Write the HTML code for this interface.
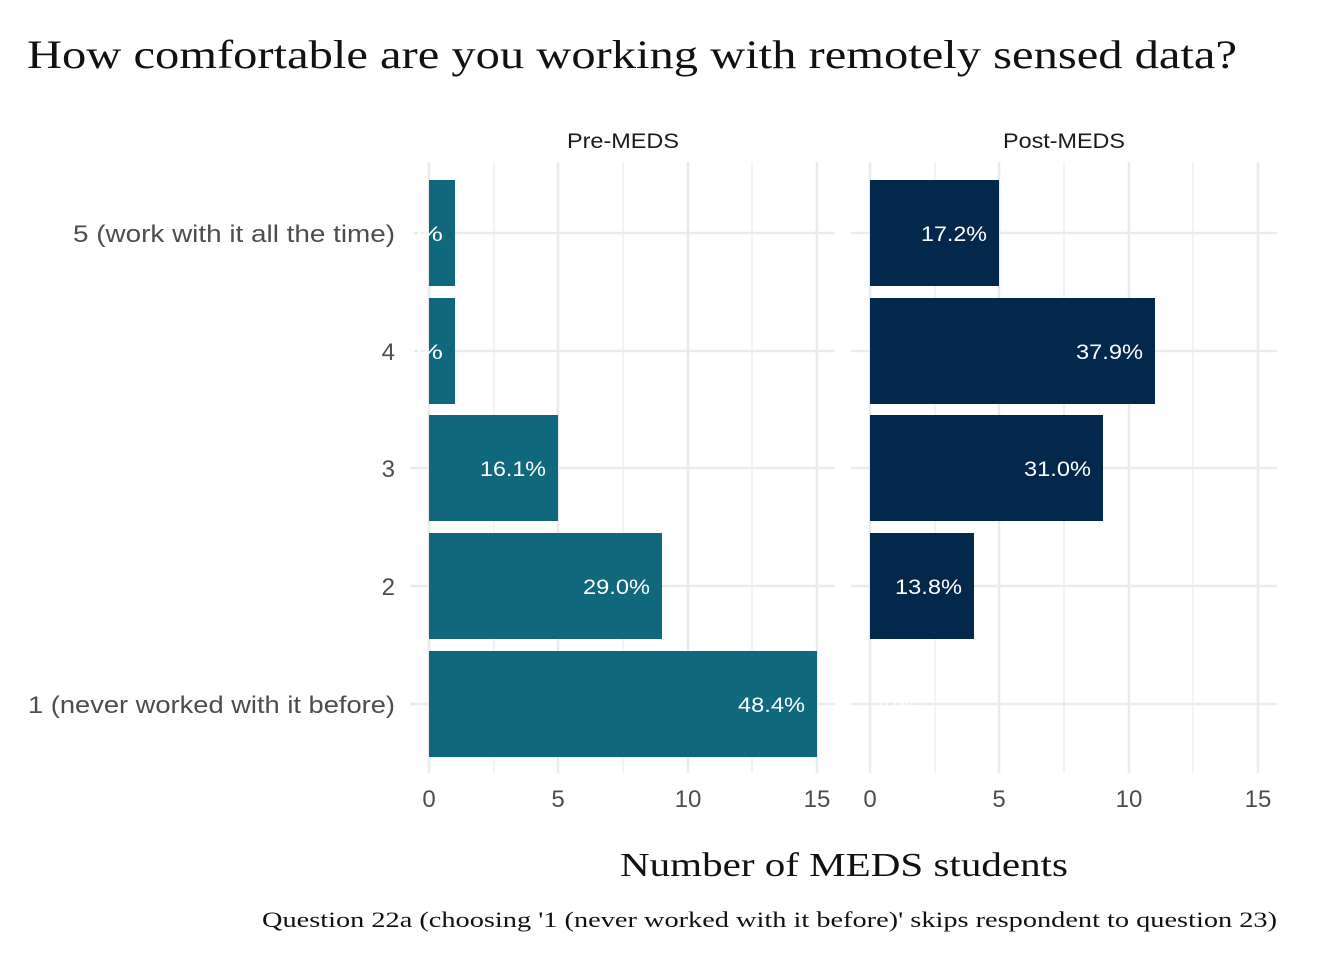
<!DOCTYPE html>
<html><head><style>body{margin:0;background:#fff}</style></head><body>
<svg width="1344" height="960" xmlns="http://www.w3.org/2000/svg" font-family="Liberation Sans, sans-serif">
<rect width="1344" height="960" fill="#fff"/>
<text x="27" y="68" font-family="Liberation Serif, serif" font-size="40" fill="#111" textLength="1210" lengthAdjust="spacingAndGlyphs">How comfortable are you working with remotely sensed data?</text>
<text x="567" y="148" font-size="21" fill="#1a1a1a" textLength="112" lengthAdjust="spacingAndGlyphs">Pre-MEDS</text>
<text x="1003" y="148" font-size="21" fill="#1a1a1a" textLength="122" lengthAdjust="spacingAndGlyphs">Post-MEDS</text>
<g stroke="#ebebeb" stroke-width="1.2">
<line x1="494" y1="162" x2="494" y2="773"/><line x1="623" y1="162" x2="623" y2="773"/><line x1="752" y1="162" x2="752" y2="773"/>
<line x1="935" y1="162" x2="935" y2="773"/><line x1="1064" y1="162" x2="1064" y2="773"/><line x1="1193" y1="162" x2="1193" y2="773"/>
</g>
<g stroke="#ebebeb" stroke-width="2.6">
<line x1="429" y1="162" x2="429" y2="773"/><line x1="558" y1="162" x2="558" y2="773"/><line x1="688" y1="162" x2="688" y2="773"/><line x1="817" y1="162" x2="817" y2="773"/>
<line x1="870" y1="162" x2="870" y2="773"/><line x1="999" y1="162" x2="999" y2="773"/><line x1="1129" y1="162" x2="1129" y2="773"/><line x1="1258" y1="162" x2="1258" y2="773"/>
<line x1="410" y1="233" x2="835" y2="233"/><line x1="410" y1="351" x2="835" y2="351"/><line x1="410" y1="468" x2="835" y2="468"/><line x1="410" y1="586" x2="835" y2="586"/><line x1="410" y1="704" x2="835" y2="704"/>
<line x1="851" y1="233" x2="1277" y2="233"/><line x1="851" y1="351" x2="1277" y2="351"/><line x1="851" y1="468" x2="1277" y2="468"/><line x1="851" y1="586" x2="1277" y2="586"/><line x1="851" y1="704" x2="1277" y2="704"/>
</g>
<g fill="#0f687b">
<rect x="429" y="180" width="26" height="106"/><rect x="429" y="298" width="26" height="106"/>
<rect x="429" y="415" width="129" height="106"/><rect x="429" y="533" width="233" height="106"/><rect x="429" y="651" width="388" height="106"/>
</g>
<g fill="#03284c">
<rect x="870" y="180" width="129" height="106"/><rect x="870" y="298" width="285" height="106"/>
<rect x="870" y="415" width="233" height="106"/><rect x="870" y="533" width="104" height="106"/>
</g>
<g fill="#fff" font-size="21">
<text x="376" y="241" textLength="67" lengthAdjust="spacingAndGlyphs">3.2%</text><text x="376" y="359" textLength="67" lengthAdjust="spacingAndGlyphs">3.2%</text>
<text x="480" y="476" textLength="66" lengthAdjust="spacingAndGlyphs">16.1%</text><text x="583" y="594" textLength="67" lengthAdjust="spacingAndGlyphs">29.0%</text><text x="738" y="712" textLength="67" lengthAdjust="spacingAndGlyphs">48.4%</text>
<text x="921" y="241" textLength="66" lengthAdjust="spacingAndGlyphs">17.2%</text><text x="1076" y="359" textLength="67" lengthAdjust="spacingAndGlyphs">37.9%</text><text x="1024" y="476" textLength="67" lengthAdjust="spacingAndGlyphs">31.0%</text><text x="895" y="594" textLength="67" lengthAdjust="spacingAndGlyphs">13.8%</text>
<text x="880" y="712" font-size="16">0.0%</text>
</g>
<g fill="#4d4d4d" font-size="24">
<text x="73" y="242" textLength="322" lengthAdjust="spacingAndGlyphs">5 (work with it all the time)</text>
<text x="28" y="713" textLength="367" lengthAdjust="spacingAndGlyphs">1 (never worked with it before)</text>
</g>
<g fill="#4d4d4d" font-size="24" text-anchor="end">
<text x="395" y="360">4</text><text x="395" y="477">3</text><text x="395" y="595">2</text>
</g>
<g fill="#4d4d4d" font-size="24" text-anchor="middle">
<text x="429" y="807">0</text><text x="558" y="807">5</text><text x="688" y="807">10</text><text x="817" y="807">15</text>
<text x="870" y="807">0</text><text x="999" y="807">5</text><text x="1129" y="807">10</text><text x="1258" y="807">15</text>
</g>
<text x="620" y="876" font-family="Liberation Serif, serif" font-size="34" fill="#111" textLength="448" lengthAdjust="spacingAndGlyphs">Number of MEDS students</text>
<text x="262" y="927" font-family="Liberation Serif, serif" font-size="22" fill="#111" textLength="1015" lengthAdjust="spacingAndGlyphs">Question 22a (choosing '1 (never worked with it before)' skips respondent to question 23)</text>
</svg>
</body></html>
